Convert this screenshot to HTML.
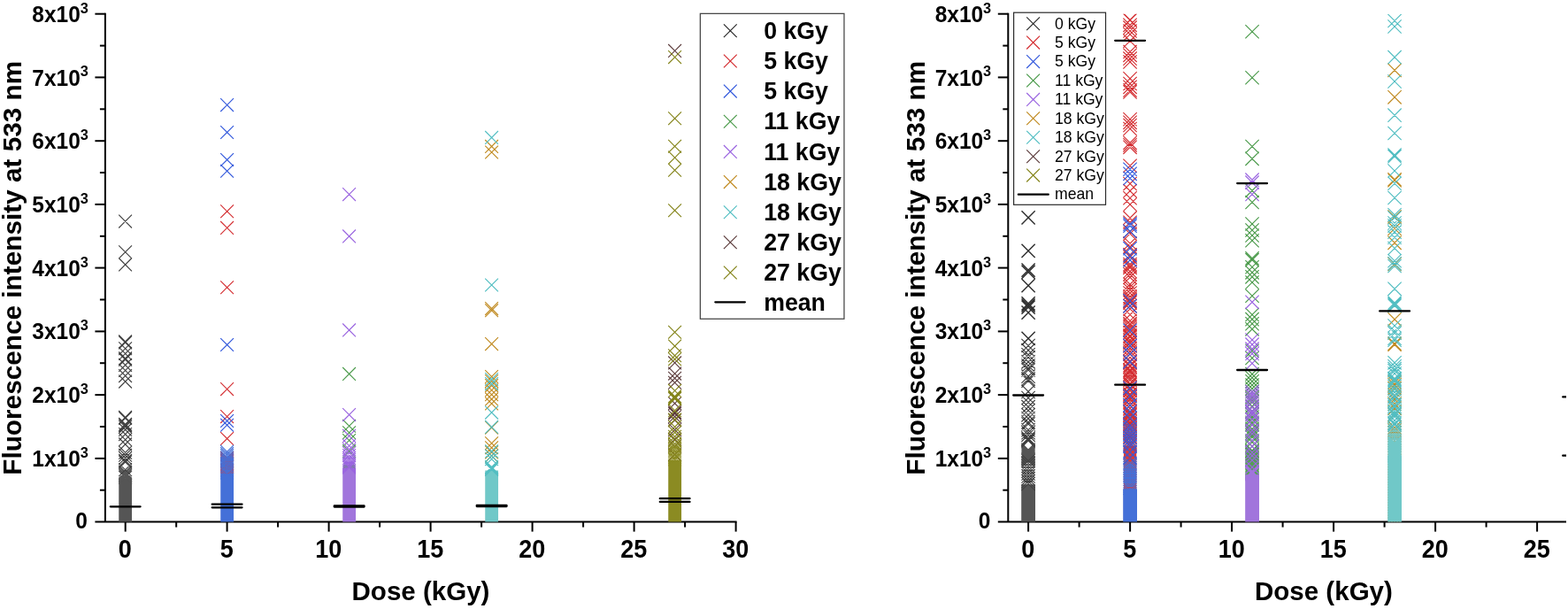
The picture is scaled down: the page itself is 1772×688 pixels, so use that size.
<!DOCTYPE html>
<html lang="en">
<head>
<meta charset="utf-8">
<title>Fluorescence intensity at 533 nm vs dose</title>
<style>
html,body{margin:0;padding:0;background:#fff;}
body{width:1772px;height:688px;overflow:hidden;}
svg{display:block;}
text{font-family:"Liberation Sans",Arial,Helvetica,sans-serif;fill:#000;}
.tk text{font-size:24.5px;font-weight:bold;}
.tk .sp{font-size:16.3px;}
.ti{font-size:29.55px;font-weight:bold;}
.ti2{font-size:29.75px;font-weight:bold;}
.tk .tx{font-size:27px;}
.lgl text{font-size:26.7px;font-weight:bold;}
.lgr text{font-size:17.6px;}
</style>
</head>
<body>
<svg width="1772" height="688" viewBox="0 0 1772 688">
<rect width="1772" height="688" fill="#fff"/>
<g stroke="#000" stroke-width="2" fill="none">
<line x1="118.9" y1="14.7" x2="118.9" y2="589.6"/>
<line x1="107.4" y1="589.6" x2="832.6" y2="589.6"/>
<line x1="112.9" y1="553.7" x2="118.9" y2="553.7"/>
<line x1="107.4" y1="517.9" x2="118.9" y2="517.9"/>
<line x1="112.9" y1="482" x2="118.9" y2="482"/>
<line x1="107.4" y1="446.1" x2="118.9" y2="446.1"/>
<line x1="112.9" y1="410.2" x2="118.9" y2="410.2"/>
<line x1="107.4" y1="374.4" x2="118.9" y2="374.4"/>
<line x1="112.9" y1="338.5" x2="118.9" y2="338.5"/>
<line x1="107.4" y1="302.6" x2="118.9" y2="302.6"/>
<line x1="112.9" y1="266.8" x2="118.9" y2="266.8"/>
<line x1="107.4" y1="230.9" x2="118.9" y2="230.9"/>
<line x1="112.9" y1="195" x2="118.9" y2="195"/>
<line x1="107.4" y1="159.2" x2="118.9" y2="159.2"/>
<line x1="112.9" y1="123.3" x2="118.9" y2="123.3"/>
<line x1="107.4" y1="87.4" x2="118.9" y2="87.4"/>
<line x1="112.9" y1="51.6" x2="118.9" y2="51.6"/>
<line x1="107.4" y1="15.7" x2="118.9" y2="15.7"/>
<line x1="141.7" y1="589.6" x2="141.7" y2="600.6"/>
<line x1="199.2" y1="589.6" x2="199.2" y2="595.6"/>
<line x1="256.6" y1="589.6" x2="256.6" y2="600.6"/>
<line x1="314.1" y1="589.6" x2="314.1" y2="595.6"/>
<line x1="371.6" y1="589.6" x2="371.6" y2="600.6"/>
<line x1="429.1" y1="589.6" x2="429.1" y2="595.6"/>
<line x1="486.6" y1="589.6" x2="486.6" y2="600.6"/>
<line x1="544.1" y1="589.6" x2="544.1" y2="595.6"/>
<line x1="601.6" y1="589.6" x2="601.6" y2="600.6"/>
<line x1="659.1" y1="589.6" x2="659.1" y2="595.6"/>
<line x1="716.6" y1="589.6" x2="716.6" y2="600.6"/>
<line x1="774.1" y1="589.6" x2="774.1" y2="595.6"/>
<line x1="831.6" y1="589.6" x2="831.6" y2="600.6"/>
</g>
<clipPath id="clm"><rect x="0" y="0" width="932.6" height="688"/></clipPath>
<clipPath id="cl"><rect x="118.9" y="15.7" width="753.8" height="573.8"/></clipPath>
<g clip-path="url(#cl)" fill="none" stroke-width="1.15">
<rect fill="#555555" stroke="none" x="134.25" y="540.1" width="14.8" height="56.7"/>
<path stroke="#555555" d="M134.2 532l14.8 14.8m0 -14.8l-14.8 14.8M134.2 530.4l14.8 14.8m0 -14.8l-14.8 14.8M134.2 528.8l14.8 14.8m0 -14.8l-14.8 14.8M134.2 527.2l14.8 14.8m0 -14.8l-14.8 14.8M134.2 525.7l14.8 14.8m0 -14.8l-14.8 14.8"/>
<path stroke="#404040" d="M134.2 523.3l14.8 14.8m0 -14.8l-14.8 14.8M134.2 514.5l14.8 14.8m0 -14.8l-14.8 14.8M134.2 512.9l14.8 14.8m0 -14.8l-14.8 14.8M134.2 510l14.8 14.8m0 -14.8l-14.8 14.8M134.2 506.8l14.8 14.8m0 -14.8l-14.8 14.8M134.2 503.9l14.8 14.8m0 -14.8l-14.8 14.8M134.2 494.5l14.8 14.8m0 -14.8l-14.8 14.8M134.2 489.3l14.8 14.8m0 -14.8l-14.8 14.8M134.2 483.2l14.8 14.8m0 -14.8l-14.8 14.8M134.2 478l14.8 14.8m0 -14.8l-14.8 14.8M134.2 474.9l14.8 14.8m0 -14.8l-14.8 14.8M134.2 473.2l14.8 14.8m0 -14.8l-14.8 14.8M134.2 471.9l14.8 14.8m0 -14.8l-14.8 14.8M134.2 465.1l14.8 14.8m0 -14.8l-14.8 14.8M134.2 464l14.8 14.8m0 -14.8l-14.8 14.8M134.2 423.7l14.8 14.8m0 -14.8l-14.8 14.8M134.2 417.2l14.8 14.8m0 -14.8l-14.8 14.8M134.2 411.1l14.8 14.8m0 -14.8l-14.8 14.8M134.2 405l14.8 14.8m0 -14.8l-14.8 14.8M134.2 398.9l14.8 14.8m0 -14.8l-14.8 14.8M134.2 397.5l14.8 14.8m0 -14.8l-14.8 14.8M134.2 392.1l14.8 14.8m0 -14.8l-14.8 14.8M134.2 386.3l14.8 14.8m0 -14.8l-14.8 14.8M134.2 379.5l14.8 14.8m0 -14.8l-14.8 14.8M134.2 378.5l14.8 14.8m0 -14.8l-14.8 14.8M134.2 291.5l14.8 14.8m0 -14.8l-14.8 14.8M134.2 277.3l14.8 14.8m0 -14.8l-14.8 14.8M134.2 242.7l14.8 14.8m0 -14.8l-14.8 14.8"/>
<rect fill="#d93a3a" stroke="none" x="249.95" y="528.3" width="13.4" height="60.7"/>
<path stroke="#d93a3a" d="M249.2 520.1l14.8 14.8m0 -14.8l-14.8 14.8M249.2 518.7l14.8 14.8m0 -14.8l-14.8 14.8M249.2 517.3l14.8 14.8m0 -14.8l-14.8 14.8M249.2 515.8l14.8 14.8m0 -14.8l-14.8 14.8M249.2 514.4l14.8 14.8m0 -14.8l-14.8 14.8M249.2 513l14.8 14.8m0 -14.8l-14.8 14.8M249.2 511.5l14.8 14.8m0 -14.8l-14.8 14.8M249.2 510.1l14.8 14.8m0 -14.8l-14.8 14.8"/>
<path stroke="#d42e32" d="M249.2 488.1l14.8 14.8m0 -14.8l-14.8 14.8M249.2 463.2l14.8 14.8m0 -14.8l-14.8 14.8M249.2 432.2l14.8 14.8m0 -14.8l-14.8 14.8M249.2 317.3l14.8 14.8m0 -14.8l-14.8 14.8M249.2 250l14.8 14.8m0 -14.8l-14.8 14.8M249.2 231.4l14.8 14.8m0 -14.8l-14.8 14.8"/>
<rect fill="#4470d8" stroke="none" x="249.25" y="535.1" width="14.8" height="61.7"/>
<path stroke="#4470d8" d="M249.2 526.6l14.8 14.8m0 -14.8l-14.8 14.8M249.2 524.4l14.8 14.8m0 -14.8l-14.8 14.8M249.2 522.3l14.8 14.8m0 -14.8l-14.8 14.8M249.2 520.1l14.8 14.8m0 -14.8l-14.8 14.8M249.2 518l14.8 14.8m0 -14.8l-14.8 14.8M249.2 515.8l14.8 14.8m0 -14.8l-14.8 14.8M249.2 513.7l14.8 14.8m0 -14.8l-14.8 14.8M249.2 511.5l14.8 14.8m0 -14.8l-14.8 14.8M249.2 509.4l14.8 14.8m0 -14.8l-14.8 14.8M249.2 507.2l14.8 14.8m0 -14.8l-14.8 14.8M249.2 505.1l14.8 14.8m0 -14.8l-14.8 14.8M249.2 502.9l14.8 14.8m0 -14.8l-14.8 14.8"/>
<path stroke="#3258dc" d="M249.2 472.8l14.8 14.8m0 -14.8l-14.8 14.8M249.2 468.1l14.8 14.8m0 -14.8l-14.8 14.8M249.2 382.1l14.8 14.8m0 -14.8l-14.8 14.8M249.2 185.8l14.8 14.8m0 -14.8l-14.8 14.8M249.2 173.1l14.8 14.8m0 -14.8l-14.8 14.8M249.2 142.1l14.8 14.8m0 -14.8l-14.8 14.8M249.2 111.2l14.8 14.8m0 -14.8l-14.8 14.8"/>
<rect fill="#55a055" stroke="none" x="387.95" y="524.7" width="13.4" height="64.3"/>
<path stroke="#4a9a4a" d="M387.2 502.3l14.8 14.8m0 -14.8l-14.8 14.8M387.2 490.1l14.8 14.8m0 -14.8l-14.8 14.8M387.2 481.3l14.8 14.8m0 -14.8l-14.8 14.8M387.2 473.8l14.8 14.8m0 -14.8l-14.8 14.8M387.2 415l14.8 14.8m0 -14.8l-14.8 14.8"/>
<rect fill="#a175dc" stroke="none" x="387.25" y="529" width="14.8" height="67.8"/>
<path stroke="#9a64e0" d="M387.2 520.5l14.8 14.8m0 -14.8l-14.8 14.8M387.2 518.7l14.8 14.8m0 -14.8l-14.8 14.8M387.2 516.6l14.8 14.8m0 -14.8l-14.8 14.8M387.2 514.3l14.8 14.8m0 -14.8l-14.8 14.8M387.2 512.2l14.8 14.8m0 -14.8l-14.8 14.8M387.2 510l14.8 14.8m0 -14.8l-14.8 14.8M387.2 507.2l14.8 14.8m0 -14.8l-14.8 14.8M387.2 504.3l14.8 14.8m0 -14.8l-14.8 14.8M387.2 500.3l14.8 14.8m0 -14.8l-14.8 14.8M387.2 496.2l14.8 14.8m0 -14.8l-14.8 14.8M387.2 485l14.8 14.8m0 -14.8l-14.8 14.8M387.2 461.2l14.8 14.8m0 -14.8l-14.8 14.8M387.2 365.5l14.8 14.8m0 -14.8l-14.8 14.8M387.2 259.5l14.8 14.8m0 -14.8l-14.8 14.8M387.2 212.2l14.8 14.8m0 -14.8l-14.8 14.8"/>
<rect fill="#c8962a" stroke="none" x="548.95" y="535.1" width="13.4" height="53.9"/>
<path stroke="#c08a20" d="M548.2 521.6l14.8 14.8m0 -14.8l-14.8 14.8M548.2 507.6l14.8 14.8m0 -14.8l-14.8 14.8M548.2 503.5l14.8 14.8m0 -14.8l-14.8 14.8M548.2 498.4l14.8 14.8m0 -14.8l-14.8 14.8M548.2 493.3l14.8 14.8m0 -14.8l-14.8 14.8M548.2 475.7l14.8 14.8m0 -14.8l-14.8 14.8M548.2 448.6l14.8 14.8m0 -14.8l-14.8 14.8M548.2 443.5l14.8 14.8m0 -14.8l-14.8 14.8M548.2 438.4l14.8 14.8m0 -14.8l-14.8 14.8M548.2 433.3l14.8 14.8m0 -14.8l-14.8 14.8M548.2 428.2l14.8 14.8m0 -14.8l-14.8 14.8M548.2 423.2l14.8 14.8m0 -14.8l-14.8 14.8M548.2 418.1l14.8 14.8m0 -14.8l-14.8 14.8M548.2 381.2l14.8 14.8m0 -14.8l-14.8 14.8M548.2 343.4l14.8 14.8m0 -14.8l-14.8 14.8M548.2 341.2l14.8 14.8m0 -14.8l-14.8 14.8M548.2 164.6l14.8 14.8m0 -14.8l-14.8 14.8M548.2 158l14.8 14.8m0 -14.8l-14.8 14.8"/>
<rect fill="#70c8c8" stroke="none" x="548.25" y="531.5" width="14.8" height="65.3"/>
<path stroke="#52bec2" d="M548.2 523l14.8 14.8m0 -14.8l-14.8 14.8M548.2 521.6l14.8 14.8m0 -14.8l-14.8 14.8M548.2 520.1l14.8 14.8m0 -14.8l-14.8 14.8M548.2 511.2l14.8 14.8m0 -14.8l-14.8 14.8M548.2 507.6l14.8 14.8m0 -14.8l-14.8 14.8M548.2 502.5l14.8 14.8m0 -14.8l-14.8 14.8M548.2 475l14.8 14.8m0 -14.8l-14.8 14.8M548.2 458.7l14.8 14.8m0 -14.8l-14.8 14.8M548.2 426.2l14.8 14.8m0 -14.8l-14.8 14.8M548.2 421.1l14.8 14.8m0 -14.8l-14.8 14.8M548.2 314.6l14.8 14.8m0 -14.8l-14.8 14.8M548.2 148l14.8 14.8m0 -14.8l-14.8 14.8"/>
<rect fill="#6e4a4a" stroke="none" x="755.95" y="524.7" width="13.4" height="64.3"/>
<path stroke="#5c3c3c" d="M755.2 506.4l14.8 14.8m0 -14.8l-14.8 14.8M755.2 496.5l14.8 14.8m0 -14.8l-14.8 14.8M755.2 488.8l14.8 14.8m0 -14.8l-14.8 14.8M755.2 478.2l14.8 14.8m0 -14.8l-14.8 14.8M755.2 467.3l14.8 14.8m0 -14.8l-14.8 14.8M755.2 463.3l14.8 14.8m0 -14.8l-14.8 14.8M755.2 459.9l14.8 14.8m0 -14.8l-14.8 14.8M755.2 458.4l14.8 14.8m0 -14.8l-14.8 14.8M755.2 448.3l14.8 14.8m0 -14.8l-14.8 14.8M755.2 424.9l14.8 14.8m0 -14.8l-14.8 14.8M755.2 419.9l14.8 14.8m0 -14.8l-14.8 14.8M755.2 414.7l14.8 14.8m0 -14.8l-14.8 14.8M755.2 402.5l14.8 14.8m0 -14.8l-14.8 14.8M755.2 50l14.8 14.8m0 -14.8l-14.8 14.8"/>
<rect fill="#8b8b22" stroke="none" x="755.25" y="520" width="14.8" height="76.8"/>
<path stroke="#8b8b22" d="M755.2 511.5l14.8 14.8m0 -14.8l-14.8 14.8M755.2 509.4l14.8 14.8m0 -14.8l-14.8 14.8M755.2 507.2l14.8 14.8m0 -14.8l-14.8 14.8M755.2 505.1l14.8 14.8m0 -14.8l-14.8 14.8M755.2 502.9l14.8 14.8m0 -14.8l-14.8 14.8M755.2 500.8l14.8 14.8m0 -14.8l-14.8 14.8M755.2 498.6l14.8 14.8m0 -14.8l-14.8 14.8M755.2 496.5l14.8 14.8m0 -14.8l-14.8 14.8"/>
<path stroke="#84841a" d="M755.2 494l14.8 14.8m0 -14.8l-14.8 14.8M755.2 490l14.8 14.8m0 -14.8l-14.8 14.8M755.2 485.9l14.8 14.8m0 -14.8l-14.8 14.8M755.2 481.1l14.8 14.8m0 -14.8l-14.8 14.8M755.2 474.9l14.8 14.8m0 -14.8l-14.8 14.8M755.2 466.6l14.8 14.8m0 -14.8l-14.8 14.8M755.2 456.4l14.8 14.8m0 -14.8l-14.8 14.8M755.2 443.2l14.8 14.8m0 -14.8l-14.8 14.8M755.2 441.8l14.8 14.8m0 -14.8l-14.8 14.8M755.2 440.4l14.8 14.8m0 -14.8l-14.8 14.8M755.2 434l14.8 14.8m0 -14.8l-14.8 14.8M755.2 398.4l14.8 14.8m0 -14.8l-14.8 14.8M755.2 394.3l14.8 14.8m0 -14.8l-14.8 14.8M755.2 383.6l14.8 14.8m0 -14.8l-14.8 14.8M755.2 367.9l14.8 14.8m0 -14.8l-14.8 14.8M755.2 230.3l14.8 14.8m0 -14.8l-14.8 14.8M755.2 184.9l14.8 14.8m0 -14.8l-14.8 14.8M755.2 170.7l14.8 14.8m0 -14.8l-14.8 14.8M755.2 157.9l14.8 14.8m0 -14.8l-14.8 14.8M755.2 126.4l14.8 14.8m0 -14.8l-14.8 14.8M755.2 57.2l14.8 14.8m0 -14.8l-14.8 14.8"/>
</g>
<g stroke="#000" stroke-width="2.3" stroke-linecap="round" clip-path="url(#clm)">
<line x1="124.8" y1="572.3" x2="158.6" y2="572.3"/>
<line x1="239.7" y1="573.3" x2="273.5" y2="573.3"/>
<line x1="239.7" y1="569.7" x2="273.5" y2="569.7"/>
<line x1="377.8" y1="572.5" x2="411.5" y2="572.5"/>
<line x1="377.8" y1="571.5" x2="411.5" y2="571.5"/>
<line x1="538.8" y1="572" x2="572.5" y2="572"/>
<line x1="538.8" y1="570.9" x2="572.5" y2="570.9"/>
<line x1="745.8" y1="566.9" x2="779.5" y2="566.9"/>
<line x1="745.8" y1="563.2" x2="779.5" y2="563.2"/>
</g>
<g class="tk">
<text text-anchor="end" transform="translate(99 596.9) scale(1 1.04)">0</text>
<text text-anchor="end" transform="translate(99.76 526.96) scale(1 1.04)">1x10<tspan class="sp" dx="-0.1" dy="-9.8">3</tspan></text>
<text text-anchor="end" transform="translate(99.76 455.22) scale(1 1.04)">2x10<tspan class="sp" dx="-0.1" dy="-9.8">3</tspan></text>
<text text-anchor="end" transform="translate(99.76 383.48) scale(1 1.04)">3x10<tspan class="sp" dx="-0.1" dy="-9.8">3</tspan></text>
<text text-anchor="end" transform="translate(99.76 311.74) scale(1 1.04)">4x10<tspan class="sp" dx="-0.1" dy="-9.8">3</tspan></text>
<text text-anchor="end" transform="translate(99.76 240) scale(1 1.04)">5x10<tspan class="sp" dx="-0.1" dy="-9.8">3</tspan></text>
<text text-anchor="end" transform="translate(99.76 168.26) scale(1 1.04)">6x10<tspan class="sp" dx="-0.1" dy="-9.8">3</tspan></text>
<text text-anchor="end" transform="translate(99.76 96.52) scale(1 1.04)">7x10<tspan class="sp" dx="-0.1" dy="-9.8">3</tspan></text>
<text text-anchor="end" transform="translate(99.76 24.78) scale(1 1.04)">8x10<tspan class="sp" dx="-0.1" dy="-9.8">3</tspan></text>
<text class="tx" text-anchor="middle" transform="translate(141.25 629.8) scale(1 1.08)">0</text>
<text class="tx" text-anchor="middle" transform="translate(256.25 629.8) scale(1 1.08)">5</text>
<text class="tx" text-anchor="middle" transform="translate(371.25 629.8) scale(1 1.08)">10</text>
<text class="tx" text-anchor="middle" transform="translate(486.25 629.8) scale(1 1.08)">15</text>
<text class="tx" text-anchor="middle" transform="translate(601.25 629.8) scale(1 1.08)">20</text>
<text class="tx" text-anchor="middle" transform="translate(716.25 629.8) scale(1 1.08)">25</text>
<text class="tx" text-anchor="middle" transform="translate(831.25 629.8) scale(1 1.08)">30</text>
</g>
<text class="ti" text-anchor="middle" transform="translate(475.5 678) scale(1 0.985)">Dose (kGy)</text>
<text class="ti2" text-anchor="middle" transform="translate(24.2 302.8) rotate(-90)">Fluorescence intensity at 533 nm</text>
<rect x="791.35" y="15.35" width="162.6" height="344.9" fill="#fff" stroke="#444" stroke-width="1.25"/>
<g class="lgl">
<path fill="none" stroke="#2a2a2a" stroke-width="1.2" d="M817.9 27.4l14.8 14.8m0 -14.8l-14.8 14.8"/>
<text transform="translate(863.2 43.9) scale(1 1.04)">0 kGy</text>
<path fill="none" stroke="#d42e32" stroke-width="1.2" d="M817.9 61.6l14.8 14.8m0 -14.8l-14.8 14.8"/>
<text transform="translate(863.2 78.05) scale(1 1.04)">5 kGy</text>
<path fill="none" stroke="#3258dc" stroke-width="1.2" d="M817.9 95.7l14.8 14.8m0 -14.8l-14.8 14.8"/>
<text transform="translate(863.2 112.2) scale(1 1.04)">5 kGy</text>
<path fill="none" stroke="#4a9a4a" stroke-width="1.2" d="M817.9 129.8l14.8 14.8m0 -14.8l-14.8 14.8"/>
<text transform="translate(863.2 146.35) scale(1 1.04)">11 kGy</text>
<path fill="none" stroke="#9a64e0" stroke-width="1.2" d="M817.9 164l14.8 14.8m0 -14.8l-14.8 14.8"/>
<text transform="translate(863.2 180.5) scale(1 1.04)">11 kGy</text>
<path fill="none" stroke="#c08a20" stroke-width="1.2" d="M817.9 198.2l14.8 14.8m0 -14.8l-14.8 14.8"/>
<text transform="translate(863.2 214.65) scale(1 1.04)">18 kGy</text>
<path fill="none" stroke="#52bec2" stroke-width="1.2" d="M817.9 232.3l14.8 14.8m0 -14.8l-14.8 14.8"/>
<text transform="translate(863.2 248.8) scale(1 1.04)">18 kGy</text>
<path fill="none" stroke="#5c3c3c" stroke-width="1.2" d="M817.9 266.4l14.8 14.8m0 -14.8l-14.8 14.8"/>
<text transform="translate(863.2 282.95) scale(1 1.04)">27 kGy</text>
<path fill="none" stroke="#84841a" stroke-width="1.2" d="M817.9 300.6l14.8 14.8m0 -14.8l-14.8 14.8"/>
<text transform="translate(863.2 317.1) scale(1 1.04)">27 kGy</text>
<line x1="808.3" y1="341.3" x2="841.9" y2="341.3" stroke="#000" stroke-width="2.2" stroke-linecap="round"/>
<text transform="translate(863.2 351.25) scale(1 1.04)">mean</text>
</g>
<g stroke="#000" stroke-width="2" fill="none">
<line x1="1139.3" y1="14.7" x2="1139.3" y2="589.6"/>
<line x1="1127.8" y1="589.6" x2="1770" y2="589.6"/>
<line x1="1133.3" y1="553.7" x2="1139.3" y2="553.7"/>
<line x1="1127.8" y1="517.9" x2="1139.3" y2="517.9"/>
<line x1="1133.3" y1="482" x2="1139.3" y2="482"/>
<line x1="1127.8" y1="446.1" x2="1139.3" y2="446.1"/>
<line x1="1133.3" y1="410.2" x2="1139.3" y2="410.2"/>
<line x1="1127.8" y1="374.4" x2="1139.3" y2="374.4"/>
<line x1="1133.3" y1="338.5" x2="1139.3" y2="338.5"/>
<line x1="1127.8" y1="302.6" x2="1139.3" y2="302.6"/>
<line x1="1133.3" y1="266.8" x2="1139.3" y2="266.8"/>
<line x1="1127.8" y1="230.9" x2="1139.3" y2="230.9"/>
<line x1="1133.3" y1="195" x2="1139.3" y2="195"/>
<line x1="1127.8" y1="159.2" x2="1139.3" y2="159.2"/>
<line x1="1133.3" y1="123.3" x2="1139.3" y2="123.3"/>
<line x1="1127.8" y1="87.4" x2="1139.3" y2="87.4"/>
<line x1="1133.3" y1="51.6" x2="1139.3" y2="51.6"/>
<line x1="1127.8" y1="15.7" x2="1139.3" y2="15.7"/>
<line x1="1162.1" y1="589.6" x2="1162.1" y2="600.6"/>
<line x1="1219.6" y1="589.6" x2="1219.6" y2="595.6"/>
<line x1="1277.1" y1="589.6" x2="1277.1" y2="600.6"/>
<line x1="1334.6" y1="589.6" x2="1334.6" y2="595.6"/>
<line x1="1392.1" y1="589.6" x2="1392.1" y2="600.6"/>
<line x1="1449.6" y1="589.6" x2="1449.6" y2="595.6"/>
<line x1="1507.1" y1="589.6" x2="1507.1" y2="600.6"/>
<line x1="1564.6" y1="589.6" x2="1564.6" y2="595.6"/>
<line x1="1622.1" y1="589.6" x2="1622.1" y2="600.6"/>
<line x1="1679.6" y1="589.6" x2="1679.6" y2="595.6"/>
<line x1="1737.1" y1="589.6" x2="1737.1" y2="600.6"/>
</g>
<clipPath id="crm"><rect x="0" y="0" width="1770" height="688"/></clipPath>
<clipPath id="cr"><rect x="1139.3" y="15.7" width="670.7" height="573.8"/></clipPath>
<g clip-path="url(#cr)" fill="none" stroke-width="1.15">
<rect fill="#555555" stroke="none" x="1154.2" y="547.3" width="15.8" height="49.5"/>
<path stroke="#555555" d="M1154.4 512l15.3 15.3m0 -15.3l-15.3 15.3M1154.4 510.9l15.3 15.3m0 -15.3l-15.3 15.3M1154.4 509.7l15.3 15.3m0 -15.3l-15.3 15.3M1154.4 508.6l15.3 15.3m0 -15.3l-15.3 15.3M1154.4 507.4l15.3 15.3m0 -15.3l-15.3 15.3M1154.4 506.3l15.3 15.3m0 -15.3l-15.3 15.3M1154.4 505.1l15.3 15.3m0 -15.3l-15.3 15.3M1154.4 504l15.3 15.3m0 -15.3l-15.3 15.3M1154.4 502.8l15.3 15.3m0 -15.3l-15.3 15.3M1154.4 501.7l15.3 15.3m0 -15.3l-15.3 15.3M1154.4 500.5l15.3 15.3m0 -15.3l-15.3 15.3"/>
<path stroke="#404040" d="M1154.4 538.9l15.3 15.3m0 -15.3l-15.3 15.3M1154.4 536l15.3 15.3m0 -15.3l-15.3 15.3M1154.4 533.2l15.3 15.3m0 -15.3l-15.3 15.3M1154.4 530.3l15.3 15.3m0 -15.3l-15.3 15.3M1154.4 527.4l15.3 15.3m0 -15.3l-15.3 15.3M1154.4 524.6l15.3 15.3m0 -15.3l-15.3 15.3M1154.4 521.7l15.3 15.3m0 -15.3l-15.3 15.3M1154.4 518.8l15.3 15.3m0 -15.3l-15.3 15.3M1154.4 515.9l15.3 15.3m0 -15.3l-15.3 15.3M1154.4 513.1l15.3 15.3m0 -15.3l-15.3 15.3M1154.4 490.2l15.3 15.3m0 -15.3l-15.3 15.3M1154.4 488.7l15.3 15.3m0 -15.3l-15.3 15.3M1154.4 487.3l15.3 15.3m0 -15.3l-15.3 15.3M1154.4 483.7l15.3 15.3m0 -15.3l-15.3 15.3M1154.4 481.1l15.3 15.3m0 -15.3l-15.3 15.3M1154.4 478.1l15.3 15.3m0 -15.3l-15.3 15.3M1154.4 471.3l15.3 15.3m0 -15.3l-15.3 15.3M1154.4 469.3l15.3 15.3m0 -15.3l-15.3 15.3M1154.4 465.2l15.3 15.3m0 -15.3l-15.3 15.3M1154.4 461.2l15.3 15.3m0 -15.3l-15.3 15.3M1154.4 456.1l15.3 15.3m0 -15.3l-15.3 15.3M1154.4 452l15.3 15.3m0 -15.3l-15.3 15.3M1154.4 446.9l15.3 15.3m0 -15.3l-15.3 15.3M1154.4 441.8l15.3 15.3m0 -15.3l-15.3 15.3M1154.4 434.7l15.3 15.3m0 -15.3l-15.3 15.3M1154.4 422.5l15.3 15.3m0 -15.3l-15.3 15.3M1154.4 420.5l15.3 15.3m0 -15.3l-15.3 15.3M1154.4 417.5l15.3 15.3m0 -15.3l-15.3 15.3M1154.4 410.3l15.3 15.3m0 -15.3l-15.3 15.3M1154.4 408.3l15.3 15.3m0 -15.3l-15.3 15.3M1154.4 405.3l15.3 15.3m0 -15.3l-15.3 15.3M1154.4 401.2l15.3 15.3m0 -15.3l-15.3 15.3M1154.4 396.1l15.3 15.3m0 -15.3l-15.3 15.3M1154.4 393.1l15.3 15.3m0 -15.3l-15.3 15.3M1154.4 388l15.3 15.3m0 -15.3l-15.3 15.3M1154.4 382.9l15.3 15.3m0 -15.3l-15.3 15.3"/>
<path stroke="#303030" stroke-width="1.45" d="M1154.5 374.8l15.2 15.2m0 -15.2l-15.2 15.2M1154.5 345.5l15.2 15.2m0 -15.2l-15.2 15.2M1154.5 339.6l15.2 15.2m0 -15.2l-15.2 15.2M1154.5 337.4l15.2 15.2m0 -15.2l-15.2 15.2M1154.5 335.3l15.2 15.2m0 -15.2l-15.2 15.2M1154.5 315.1l15.2 15.2m0 -15.2l-15.2 15.2M1154.5 299.7l15.2 15.2m0 -15.2l-15.2 15.2M1154.5 297.6l15.2 15.2m0 -15.2l-15.2 15.2M1154.5 275.7l15.2 15.2m0 -15.2l-15.2 15.2M1154.5 238.3l15.2 15.2m0 -15.2l-15.2 15.2"/>
<rect fill="#d93a3a" stroke="none" x="1269.9" y="503.5" width="14.4" height="85.5"/>
<path stroke="#d42e32" d="M1269.4 495.1l15.3 15.3m0 -15.3l-15.3 15.3M1269.4 492l15.3 15.3m0 -15.3l-15.3 15.3M1269.4 489.1l15.3 15.3m0 -15.3l-15.3 15.3M1269.4 486.8l15.3 15.3m0 -15.3l-15.3 15.3M1269.4 485.2l15.3 15.3m0 -15.3l-15.3 15.3M1269.4 481.9l15.3 15.3m0 -15.3l-15.3 15.3M1269.4 478.4l15.3 15.3m0 -15.3l-15.3 15.3M1269.4 476l15.3 15.3m0 -15.3l-15.3 15.3M1269.4 473.6l15.3 15.3m0 -15.3l-15.3 15.3M1269.4 471.9l15.3 15.3m0 -15.3l-15.3 15.3M1269.4 471l15.3 15.3m0 -15.3l-15.3 15.3M1269.4 469l15.3 15.3m0 -15.3l-15.3 15.3M1269.4 466.3l15.3 15.3m0 -15.3l-15.3 15.3M1269.4 465.2l15.3 15.3m0 -15.3l-15.3 15.3M1269.4 461.9l15.3 15.3m0 -15.3l-15.3 15.3M1269.4 460.3l15.3 15.3m0 -15.3l-15.3 15.3M1269.4 458.7l15.3 15.3m0 -15.3l-15.3 15.3M1269.4 457.7l15.3 15.3m0 -15.3l-15.3 15.3M1269.4 453.7l15.3 15.3m0 -15.3l-15.3 15.3M1269.4 450.5l15.3 15.3m0 -15.3l-15.3 15.3M1269.4 446.9l15.3 15.3m0 -15.3l-15.3 15.3M1269.4 444.1l15.3 15.3m0 -15.3l-15.3 15.3M1269.4 443.1l15.3 15.3m0 -15.3l-15.3 15.3M1269.4 441.2l15.3 15.3m0 -15.3l-15.3 15.3M1269.4 438.8l15.3 15.3m0 -15.3l-15.3 15.3M1269.4 437.5l15.3 15.3m0 -15.3l-15.3 15.3M1269.4 433.7l15.3 15.3m0 -15.3l-15.3 15.3M1269.4 431.7l15.3 15.3m0 -15.3l-15.3 15.3M1269.4 430.3l15.3 15.3m0 -15.3l-15.3 15.3M1269.4 426.8l15.3 15.3m0 -15.3l-15.3 15.3M1269.4 425.6l15.3 15.3m0 -15.3l-15.3 15.3M1269.4 421.8l15.3 15.3m0 -15.3l-15.3 15.3M1269.4 419.5l15.3 15.3m0 -15.3l-15.3 15.3M1269.4 416.9l15.3 15.3m0 -15.3l-15.3 15.3M1269.4 414.9l15.3 15.3m0 -15.3l-15.3 15.3M1269.4 412.6l15.3 15.3m0 -15.3l-15.3 15.3M1269.4 411.1l15.3 15.3m0 -15.3l-15.3 15.3M1269.4 410.1l15.3 15.3m0 -15.3l-15.3 15.3M1269.4 406.5l15.3 15.3m0 -15.3l-15.3 15.3M1269.4 405l15.3 15.3m0 -15.3l-15.3 15.3M1269.4 401.7l15.3 15.3m0 -15.3l-15.3 15.3M1269.4 400.1l15.3 15.3m0 -15.3l-15.3 15.3M1269.4 396.2l15.3 15.3m0 -15.3l-15.3 15.3M1269.4 392.5l15.3 15.3m0 -15.3l-15.3 15.3M1269.4 389.3l15.3 15.3m0 -15.3l-15.3 15.3M1269.4 386l15.3 15.3m0 -15.3l-15.3 15.3M1269.4 383.3l15.3 15.3m0 -15.3l-15.3 15.3M1269.4 380.1l15.3 15.3m0 -15.3l-15.3 15.3M1269.4 378.9l15.3 15.3m0 -15.3l-15.3 15.3M1269.4 376.5l15.3 15.3m0 -15.3l-15.3 15.3M1269.4 373l15.3 15.3m0 -15.3l-15.3 15.3M1269.4 371.5l15.3 15.3m0 -15.3l-15.3 15.3M1269.4 367.8l15.3 15.3m0 -15.3l-15.3 15.3M1269.4 364.1l15.3 15.3m0 -15.3l-15.3 15.3M1269.4 361.9l15.3 15.3m0 -15.3l-15.3 15.3M1269.4 359.9l15.3 15.3m0 -15.3l-15.3 15.3M1269.4 358l15.3 15.3m0 -15.3l-15.3 15.3M1269.4 354.8l15.3 15.3m0 -15.3l-15.3 15.3M1269.4 347.9l15.3 15.3m0 -15.3l-15.3 15.3M1269.4 341.4l15.3 15.3m0 -15.3l-15.3 15.3M1269.4 338l15.3 15.3m0 -15.3l-15.3 15.3M1269.4 334.4l15.3 15.3m0 -15.3l-15.3 15.3M1269.4 332.9l15.3 15.3m0 -15.3l-15.3 15.3M1269.4 331.9l15.3 15.3m0 -15.3l-15.3 15.3M1269.4 329.5l15.3 15.3m0 -15.3l-15.3 15.3M1269.4 327.4l15.3 15.3m0 -15.3l-15.3 15.3M1269.4 323.4l15.3 15.3m0 -15.3l-15.3 15.3M1269.4 319.8l15.3 15.3m0 -15.3l-15.3 15.3M1269.4 316.6l15.3 15.3m0 -15.3l-15.3 15.3M1269.4 313.5l15.3 15.3m0 -15.3l-15.3 15.3M1269.4 305.7l15.3 15.3m0 -15.3l-15.3 15.3M1269.4 302.2l15.3 15.3m0 -15.3l-15.3 15.3M1269.4 299l15.3 15.3m0 -15.3l-15.3 15.3M1269.4 294.7l15.3 15.3m0 -15.3l-15.3 15.3M1269.4 292.8l15.3 15.3m0 -15.3l-15.3 15.3M1269.4 290.9l15.3 15.3m0 -15.3l-15.3 15.3M1269.4 282.7l15.3 15.3m0 -15.3l-15.3 15.3M1269.4 280.1l15.3 15.3m0 -15.3l-15.3 15.3M1269.4 271.2l15.3 15.3m0 -15.3l-15.3 15.3M1269.4 267.4l15.3 15.3m0 -15.3l-15.3 15.3M1269.4 256.3l15.3 15.3m0 -15.3l-15.3 15.3M1269.4 253.8l15.3 15.3m0 -15.3l-15.3 15.3M1269.4 243.6l15.3 15.3m0 -15.3l-15.3 15.3M1269.4 238.5l15.3 15.3m0 -15.3l-15.3 15.3M1269.4 223.3l15.3 15.3m0 -15.3l-15.3 15.3M1269.4 216.1l15.3 15.3m0 -15.3l-15.3 15.3M1269.4 208l15.3 15.3m0 -15.3l-15.3 15.3M1269.4 199.9l15.3 15.3m0 -15.3l-15.3 15.3M1269.4 179.6l15.3 15.3m0 -15.3l-15.3 15.3M1269.4 158.7l15.3 15.3m0 -15.3l-15.3 15.3M1269.4 156.2l15.3 15.3m0 -15.3l-15.3 15.3M1269.4 153.7l15.3 15.3m0 -15.3l-15.3 15.3M1269.4 137.8l15.3 15.3m0 -15.3l-15.3 15.3M1269.4 133.8l15.3 15.3m0 -15.3l-15.3 15.3M1269.4 130.7l15.3 15.3m0 -15.3l-15.3 15.3M1269.4 127.1l15.3 15.3m0 -15.3l-15.3 15.3M1269.4 96.3l15.3 15.3m0 -15.3l-15.3 15.3M1269.4 94.3l15.3 15.3m0 -15.3l-15.3 15.3M1269.4 90.7l15.3 15.3m0 -15.3l-15.3 15.3M1269.4 86.9l15.3 15.3m0 -15.3l-15.3 15.3M1269.4 81.2l15.3 15.3m0 -15.3l-15.3 15.3M1269.4 62.3l15.3 15.3m0 -15.3l-15.3 15.3M1269.4 58.5l15.3 15.3m0 -15.3l-15.3 15.3M1269.4 54.7l15.3 15.3m0 -15.3l-15.3 15.3M1269.4 50.9l15.3 15.3m0 -15.3l-15.3 15.3M1269.4 38.6l15.3 15.3m0 -15.3l-15.3 15.3M1269.4 31.1l15.3 15.3m0 -15.3l-15.3 15.3M1269.4 27.3l15.3 15.3m0 -15.3l-15.3 15.3M1269.4 23.5l15.3 15.3m0 -15.3l-15.3 15.3M1269.4 20.7l15.3 15.3m0 -15.3l-15.3 15.3M1269.4 15.3l15.3 15.3m0 -15.3l-15.3 15.3M1269.4 14.8l15.3 15.3m0 -15.3l-15.3 15.3"/>
<rect fill="#4470d8" stroke="none" x="1269.2" y="552.3" width="15.8" height="44.5"/>
<path stroke="#4470d8" d="M1269.4 543.6l15.3 15.3m0 -15.3l-15.3 15.3M1269.4 541.1l15.3 15.3m0 -15.3l-15.3 15.3M1269.4 538.5l15.3 15.3m0 -15.3l-15.3 15.3M1269.4 536l15.3 15.3m0 -15.3l-15.3 15.3M1269.4 533.5l15.3 15.3m0 -15.3l-15.3 15.3M1269.4 531l15.3 15.3m0 -15.3l-15.3 15.3M1269.4 528.5l15.3 15.3m0 -15.3l-15.3 15.3M1269.4 526l15.3 15.3m0 -15.3l-15.3 15.3M1269.4 523.5l15.3 15.3m0 -15.3l-15.3 15.3M1269.4 521l15.3 15.3m0 -15.3l-15.3 15.3M1269.4 518.5l15.3 15.3m0 -15.3l-15.3 15.3M1269.4 515.9l15.3 15.3m0 -15.3l-15.3 15.3"/>
<path stroke="#3258dc" d="M1269.4 509.5l15.3 15.3m0 -15.3l-15.3 15.3M1269.4 503l15.3 15.3m0 -15.3l-15.3 15.3M1269.4 496.6l15.3 15.3m0 -15.3l-15.3 15.3M1269.4 493.3l15.3 15.3m0 -15.3l-15.3 15.3M1269.4 490l15.3 15.3m0 -15.3l-15.3 15.3M1269.4 486.7l15.3 15.3m0 -15.3l-15.3 15.3M1269.4 483.4l15.3 15.3m0 -15.3l-15.3 15.3M1269.4 480.1l15.3 15.3m0 -15.3l-15.3 15.3M1269.4 476.8l15.3 15.3m0 -15.3l-15.3 15.3M1269.4 473.5l15.3 15.3m0 -15.3l-15.3 15.3M1269.4 464.3l15.3 15.3m0 -15.3l-15.3 15.3M1269.4 457.1l15.3 15.3m0 -15.3l-15.3 15.3M1269.4 450l15.3 15.3m0 -15.3l-15.3 15.3M1269.4 439.8l15.3 15.3m0 -15.3l-15.3 15.3M1269.4 430.7l15.3 15.3m0 -15.3l-15.3 15.3M1269.4 401.2l15.3 15.3m0 -15.3l-15.3 15.3M1269.4 392.1l15.3 15.3m0 -15.3l-15.3 15.3M1269.4 382.9l15.3 15.3m0 -15.3l-15.3 15.3M1269.4 365.6l15.3 15.3m0 -15.3l-15.3 15.3M1269.4 338.2l15.3 15.3m0 -15.3l-15.3 15.3M1269.4 332.1l15.3 15.3m0 -15.3l-15.3 15.3M1269.4 286.2l15.3 15.3m0 -15.3l-15.3 15.3M1269.4 281.1l15.3 15.3m0 -15.3l-15.3 15.3M1269.4 273l15.3 15.3m0 -15.3l-15.3 15.3M1269.4 253.7l15.3 15.3m0 -15.3l-15.3 15.3M1269.4 247.6l15.3 15.3m0 -15.3l-15.3 15.3M1269.4 245.5l15.3 15.3m0 -15.3l-15.3 15.3M1269.4 193.8l15.3 15.3m0 -15.3l-15.3 15.3M1269.4 188.7l15.3 15.3m0 -15.3l-15.3 15.3M1269.4 183.6l15.3 15.3m0 -15.3l-15.3 15.3"/>
<rect fill="#55a055" stroke="none" x="1407.9" y="535.1" width="14.4" height="53.9"/>
<path stroke="#55a055" d="M1407.4 524.6l15.3 15.3m0 -15.3l-15.3 15.3M1407.4 523.1l15.3 15.3m0 -15.3l-15.3 15.3M1407.4 521.7l15.3 15.3m0 -15.3l-15.3 15.3M1407.4 520.3l15.3 15.3m0 -15.3l-15.3 15.3M1407.4 518.8l15.3 15.3m0 -15.3l-15.3 15.3M1407.4 517.4l15.3 15.3m0 -15.3l-15.3 15.3M1407.4 515.9l15.3 15.3m0 -15.3l-15.3 15.3M1407.4 514.5l15.3 15.3m0 -15.3l-15.3 15.3M1407.4 513.1l15.3 15.3m0 -15.3l-15.3 15.3M1407.4 511.6l15.3 15.3m0 -15.3l-15.3 15.3M1407.4 510.2l15.3 15.3m0 -15.3l-15.3 15.3M1407.4 508.8l15.3 15.3m0 -15.3l-15.3 15.3M1407.4 507.3l15.3 15.3m0 -15.3l-15.3 15.3M1407.4 505.9l15.3 15.3m0 -15.3l-15.3 15.3M1407.4 504.5l15.3 15.3m0 -15.3l-15.3 15.3M1407.4 503l15.3 15.3m0 -15.3l-15.3 15.3M1407.4 501.6l15.3 15.3m0 -15.3l-15.3 15.3"/>
<path stroke="#4a9a4a" d="M1407.4 526l15.3 15.3m0 -15.3l-15.3 15.3M1407.4 501.5l15.3 15.3m0 -15.3l-15.3 15.3M1407.4 496.7l15.3 15.3m0 -15.3l-15.3 15.3M1407.4 491.8l15.3 15.3m0 -15.3l-15.3 15.3M1407.4 486.2l15.3 15.3m0 -15.3l-15.3 15.3M1407.4 484l15.3 15.3m0 -15.3l-15.3 15.3M1407.4 481.4l15.3 15.3m0 -15.3l-15.3 15.3M1407.4 479.3l15.3 15.3m0 -15.3l-15.3 15.3M1407.4 476.9l15.3 15.3m0 -15.3l-15.3 15.3M1407.4 471.8l15.3 15.3m0 -15.3l-15.3 15.3M1407.4 469.7l15.3 15.3m0 -15.3l-15.3 15.3M1407.4 465.7l15.3 15.3m0 -15.3l-15.3 15.3M1407.4 463.3l15.3 15.3m0 -15.3l-15.3 15.3M1407.4 460.4l15.3 15.3m0 -15.3l-15.3 15.3M1407.4 456.9l15.3 15.3m0 -15.3l-15.3 15.3M1407.4 451.4l15.3 15.3m0 -15.3l-15.3 15.3M1407.4 446.9l15.3 15.3m0 -15.3l-15.3 15.3M1407.4 445.5l15.3 15.3m0 -15.3l-15.3 15.3M1407.4 442.8l15.3 15.3m0 -15.3l-15.3 15.3M1407.4 440.7l15.3 15.3m0 -15.3l-15.3 15.3M1407.4 434.9l15.3 15.3m0 -15.3l-15.3 15.3M1407.4 431.4l15.3 15.3m0 -15.3l-15.3 15.3M1407.4 427.3l15.3 15.3m0 -15.3l-15.3 15.3M1407.4 423.2l15.3 15.3m0 -15.3l-15.3 15.3M1407.4 419.1l15.3 15.3m0 -15.3l-15.3 15.3M1407.4 415l15.3 15.3m0 -15.3l-15.3 15.3M1407.4 396.8l15.3 15.3m0 -15.3l-15.3 15.3M1407.4 388.7l15.3 15.3m0 -15.3l-15.3 15.3M1407.4 364.2l15.3 15.3m0 -15.3l-15.3 15.3M1407.4 358.1l15.3 15.3m0 -15.3l-15.3 15.3M1407.4 353l15.3 15.3m0 -15.3l-15.3 15.3M1407.4 347.9l15.3 15.3m0 -15.3l-15.3 15.3M1407.4 326.6l15.3 15.3m0 -15.3l-15.3 15.3M1407.4 311.3l15.3 15.3m0 -15.3l-15.3 15.3M1407.4 305.2l15.3 15.3m0 -15.3l-15.3 15.3M1407.4 300.2l15.3 15.3m0 -15.3l-15.3 15.3M1407.4 294.1l15.3 15.3m0 -15.3l-15.3 15.3M1407.4 286l15.3 15.3m0 -15.3l-15.3 15.3M1407.4 284.2l15.3 15.3m0 -15.3l-15.3 15.3M1407.4 264.1l15.3 15.3m0 -15.3l-15.3 15.3M1407.4 258.4l15.3 15.3m0 -15.3l-15.3 15.3M1407.4 252.4l15.3 15.3m0 -15.3l-15.3 15.3M1407.4 245.3l15.3 15.3m0 -15.3l-15.3 15.3M1407.4 220.9l15.3 15.3m0 -15.3l-15.3 15.3M1407.4 207.7l15.3 15.3m0 -15.3l-15.3 15.3M1407.4 171.7l15.3 15.3m0 -15.3l-15.3 15.3M1407.4 157.8l15.3 15.3m0 -15.3l-15.3 15.3M1407.4 80.1l15.3 15.3m0 -15.3l-15.3 15.3M1407.4 28.1l15.3 15.3m0 -15.3l-15.3 15.3"/>
<rect fill="#a175dc" stroke="none" x="1407.2" y="536.2" width="15.8" height="60.6"/>
<path stroke="#a175dc" d="M1407.4 527.8l15.3 15.3m0 -15.3l-15.3 15.3M1407.4 526.7l15.3 15.3m0 -15.3l-15.3 15.3M1407.4 525.6l15.3 15.3m0 -15.3l-15.3 15.3M1407.4 524.6l15.3 15.3m0 -15.3l-15.3 15.3"/>
<path stroke="#9a64e0" d="M1407.4 520.2l15.3 15.3m0 -15.3l-15.3 15.3M1407.4 512.4l15.3 15.3m0 -15.3l-15.3 15.3M1407.4 507.3l15.3 15.3m0 -15.3l-15.3 15.3M1407.4 503.4l15.3 15.3m0 -15.3l-15.3 15.3M1407.4 496.5l15.3 15.3m0 -15.3l-15.3 15.3M1407.4 489.9l15.3 15.3m0 -15.3l-15.3 15.3M1407.4 482.3l15.3 15.3m0 -15.3l-15.3 15.3M1407.4 478.9l15.3 15.3m0 -15.3l-15.3 15.3M1407.4 472.5l15.3 15.3m0 -15.3l-15.3 15.3M1407.4 466.5l15.3 15.3m0 -15.3l-15.3 15.3M1407.4 460.8l15.3 15.3m0 -15.3l-15.3 15.3M1407.4 458.5l15.3 15.3m0 -15.3l-15.3 15.3M1407.4 456.6l15.3 15.3m0 -15.3l-15.3 15.3M1407.4 452.6l15.3 15.3m0 -15.3l-15.3 15.3M1407.4 446.4l15.3 15.3m0 -15.3l-15.3 15.3M1407.4 443.1l15.3 15.3m0 -15.3l-15.3 15.3M1407.4 439.9l15.3 15.3m0 -15.3l-15.3 15.3M1407.4 437.5l15.3 15.3m0 -15.3l-15.3 15.3M1407.4 434.9l15.3 15.3m0 -15.3l-15.3 15.3M1407.4 402.9l15.3 15.3m0 -15.3l-15.3 15.3M1407.4 391.8l15.3 15.3m0 -15.3l-15.3 15.3M1407.4 386.5l15.3 15.3m0 -15.3l-15.3 15.3M1407.4 381.5l15.3 15.3m0 -15.3l-15.3 15.3M1407.4 376.3l15.3 15.3m0 -15.3l-15.3 15.3M1407.4 333.7l15.3 15.3m0 -15.3l-15.3 15.3M1407.4 211.8l15.3 15.3m0 -15.3l-15.3 15.3M1407.4 198.5l15.3 15.3m0 -15.3l-15.3 15.3M1407.4 195.5l15.3 15.3m0 -15.3l-15.3 15.3"/>
<path stroke="#c08a20" d="M1568.4 581.7l15.3 15.3m0 -15.3l-15.3 15.3M1568.4 578.8l15.3 15.3m0 -15.3l-15.3 15.3M1568.4 575.9l15.3 15.3m0 -15.3l-15.3 15.3M1568.4 573.1l15.3 15.3m0 -15.3l-15.3 15.3M1568.4 570.2l15.3 15.3m0 -15.3l-15.3 15.3M1568.4 567.3l15.3 15.3m0 -15.3l-15.3 15.3M1568.4 564.4l15.3 15.3m0 -15.3l-15.3 15.3M1568.4 561.6l15.3 15.3m0 -15.3l-15.3 15.3M1568.4 558.7l15.3 15.3m0 -15.3l-15.3 15.3M1568.4 555.8l15.3 15.3m0 -15.3l-15.3 15.3M1568.4 553l15.3 15.3m0 -15.3l-15.3 15.3M1568.4 550.1l15.3 15.3m0 -15.3l-15.3 15.3M1568.4 547.2l15.3 15.3m0 -15.3l-15.3 15.3M1568.4 544.4l15.3 15.3m0 -15.3l-15.3 15.3M1568.4 541.5l15.3 15.3m0 -15.3l-15.3 15.3M1568.4 538.6l15.3 15.3m0 -15.3l-15.3 15.3M1568.4 535.7l15.3 15.3m0 -15.3l-15.3 15.3M1568.4 532.9l15.3 15.3m0 -15.3l-15.3 15.3M1568.4 530l15.3 15.3m0 -15.3l-15.3 15.3M1568.4 527.1l15.3 15.3m0 -15.3l-15.3 15.3M1568.4 524.3l15.3 15.3m0 -15.3l-15.3 15.3M1568.4 521.4l15.3 15.3m0 -15.3l-15.3 15.3M1568.4 518.5l15.3 15.3m0 -15.3l-15.3 15.3M1568.4 515.7l15.3 15.3m0 -15.3l-15.3 15.3M1568.4 512.8l15.3 15.3m0 -15.3l-15.3 15.3M1568.4 509.9l15.3 15.3m0 -15.3l-15.3 15.3M1568.4 507.1l15.3 15.3m0 -15.3l-15.3 15.3M1568.4 504.2l15.3 15.3m0 -15.3l-15.3 15.3M1568.4 501.3l15.3 15.3m0 -15.3l-15.3 15.3M1568.4 498.4l15.3 15.3m0 -15.3l-15.3 15.3M1568.4 495.6l15.3 15.3m0 -15.3l-15.3 15.3M1568.4 492.7l15.3 15.3m0 -15.3l-15.3 15.3M1568.4 489.8l15.3 15.3m0 -15.3l-15.3 15.3M1568.4 487l15.3 15.3m0 -15.3l-15.3 15.3M1568.4 484.1l15.3 15.3m0 -15.3l-15.3 15.3M1568.4 481.2l15.3 15.3m0 -15.3l-15.3 15.3M1568.4 478.4l15.3 15.3m0 -15.3l-15.3 15.3M1568.4 475.5l15.3 15.3m0 -15.3l-15.3 15.3M1568.4 460.6l15.3 15.3m0 -15.3l-15.3 15.3M1568.4 453.7l15.3 15.3m0 -15.3l-15.3 15.3M1568.4 448.5l15.3 15.3m0 -15.3l-15.3 15.3M1568.4 443.4l15.3 15.3m0 -15.3l-15.3 15.3M1568.4 439.1l15.3 15.3m0 -15.3l-15.3 15.3M1568.4 430.9l15.3 15.3m0 -15.3l-15.3 15.3M1568.4 427.2l15.3 15.3m0 -15.3l-15.3 15.3M1568.4 424.5l15.3 15.3m0 -15.3l-15.3 15.3M1568.4 381.7l15.3 15.3m0 -15.3l-15.3 15.3M1568.4 380.7l15.3 15.3m0 -15.3l-15.3 15.3M1568.4 353.2l15.3 15.3m0 -15.3l-15.3 15.3M1568.4 290.7l15.3 15.3m0 -15.3l-15.3 15.3M1568.4 266.7l15.3 15.3m0 -15.3l-15.3 15.3M1568.4 250.5l15.3 15.3m0 -15.3l-15.3 15.3M1568.4 237.3l15.3 15.3m0 -15.3l-15.3 15.3M1568.4 196.1l15.3 15.3m0 -15.3l-15.3 15.3M1568.4 195.1l15.3 15.3m0 -15.3l-15.3 15.3M1568.4 102.2l15.3 15.3m0 -15.3l-15.3 15.3M1568.4 71.7l15.3 15.3m0 -15.3l-15.3 15.3"/>
<rect fill="#70c8c8" stroke="none" x="1568.2" y="515" width="15.8" height="81.8"/>
<path stroke="#70c8c8" d="M1568.4 507.3l15.3 15.3m0 -15.3l-15.3 15.3M1568.4 506l15.3 15.3m0 -15.3l-15.3 15.3M1568.4 504.8l15.3 15.3m0 -15.3l-15.3 15.3M1568.4 503.5l15.3 15.3m0 -15.3l-15.3 15.3M1568.4 502.2l15.3 15.3m0 -15.3l-15.3 15.3M1568.4 500.9l15.3 15.3m0 -15.3l-15.3 15.3M1568.4 499.6l15.3 15.3m0 -15.3l-15.3 15.3M1568.4 498.3l15.3 15.3m0 -15.3l-15.3 15.3M1568.4 497l15.3 15.3m0 -15.3l-15.3 15.3M1568.4 495.7l15.3 15.3m0 -15.3l-15.3 15.3M1568.4 494.4l15.3 15.3m0 -15.3l-15.3 15.3M1568.4 493.1l15.3 15.3m0 -15.3l-15.3 15.3M1568.4 492.3l15.3 15.3m0 -15.3l-15.3 15.3M1568.4 489.7l15.3 15.3m0 -15.3l-15.3 15.3M1568.4 487.1l15.3 15.3m0 -15.3l-15.3 15.3M1568.4 484.5l15.3 15.3m0 -15.3l-15.3 15.3M1568.4 481.9l15.3 15.3m0 -15.3l-15.3 15.3M1568.4 479.4l15.3 15.3m0 -15.3l-15.3 15.3M1568.4 476.8l15.3 15.3m0 -15.3l-15.3 15.3"/>
<path stroke="#52bec2" d="M1568.4 472.2l15.3 15.3m0 -15.3l-15.3 15.3M1568.4 470.4l15.3 15.3m0 -15.3l-15.3 15.3M1568.4 467.3l15.3 15.3m0 -15.3l-15.3 15.3M1568.4 462.9l15.3 15.3m0 -15.3l-15.3 15.3M1568.4 460.9l15.3 15.3m0 -15.3l-15.3 15.3M1568.4 459.1l15.3 15.3m0 -15.3l-15.3 15.3M1568.4 456.8l15.3 15.3m0 -15.3l-15.3 15.3M1568.4 452l15.3 15.3m0 -15.3l-15.3 15.3M1568.4 450.1l15.3 15.3m0 -15.3l-15.3 15.3M1568.4 445.4l15.3 15.3m0 -15.3l-15.3 15.3M1568.4 441.1l15.3 15.3m0 -15.3l-15.3 15.3M1568.4 439.1l15.3 15.3m0 -15.3l-15.3 15.3M1568.4 435.4l15.3 15.3m0 -15.3l-15.3 15.3M1568.4 432.1l15.3 15.3m0 -15.3l-15.3 15.3M1568.4 428.9l15.3 15.3m0 -15.3l-15.3 15.3M1568.4 423l15.3 15.3m0 -15.3l-15.3 15.3M1568.4 421.3l15.3 15.3m0 -15.3l-15.3 15.3M1568.4 420l15.3 15.3m0 -15.3l-15.3 15.3M1568.4 414.3l15.3 15.3m0 -15.3l-15.3 15.3M1568.4 411.1l15.3 15.3m0 -15.3l-15.3 15.3M1568.4 409l15.3 15.3m0 -15.3l-15.3 15.3M1568.4 406.2l15.3 15.3m0 -15.3l-15.3 15.3M1568.4 402.2l15.3 15.3m0 -15.3l-15.3 15.3M1568.4 376.6l15.3 15.3m0 -15.3l-15.3 15.3M1568.4 374.6l15.3 15.3m0 -15.3l-15.3 15.3M1568.4 368.5l15.3 15.3m0 -15.3l-15.3 15.3M1568.4 366.4l15.3 15.3m0 -15.3l-15.3 15.3M1568.4 360.3l15.3 15.3m0 -15.3l-15.3 15.3M1568.4 337.7l15.3 15.3m0 -15.3l-15.3 15.3M1568.4 336l15.3 15.3m0 -15.3l-15.3 15.3M1568.4 334.4l15.3 15.3m0 -15.3l-15.3 15.3M1568.4 318.7l15.3 15.3m0 -15.3l-15.3 15.3M1568.4 292.8l15.3 15.3m0 -15.3l-15.3 15.3M1568.4 290.2l15.3 15.3m0 -15.3l-15.3 15.3M1568.4 287.1l15.3 15.3m0 -15.3l-15.3 15.3M1568.4 272.8l15.3 15.3m0 -15.3l-15.3 15.3M1568.4 260.6l15.3 15.3m0 -15.3l-15.3 15.3M1568.4 254.5l15.3 15.3m0 -15.3l-15.3 15.3M1568.4 247.4l15.3 15.3m0 -15.3l-15.3 15.3M1568.4 244.4l15.3 15.3m0 -15.3l-15.3 15.3M1568.4 238.3l15.3 15.3m0 -15.3l-15.3 15.3M1568.4 235.2l15.3 15.3m0 -15.3l-15.3 15.3M1568.4 215.9l15.3 15.3m0 -15.3l-15.3 15.3M1568.4 199.6l15.3 15.3m0 -15.3l-15.3 15.3M1568.4 185.4l15.3 15.3m0 -15.3l-15.3 15.3M1568.4 169l15.3 15.3m0 -15.3l-15.3 15.3M1568.4 167.3l15.3 15.3m0 -15.3l-15.3 15.3M1568.4 142.8l15.3 15.3m0 -15.3l-15.3 15.3M1568.4 122.5l15.3 15.3m0 -15.3l-15.3 15.3M1568.4 84.4l15.3 15.3m0 -15.3l-15.3 15.3M1568.4 57l15.3 15.3m0 -15.3l-15.3 15.3M1568.4 22.4l15.3 15.3m0 -15.3l-15.3 15.3M1568.4 15.8l15.3 15.3m0 -15.3l-15.3 15.3"/>
</g>
<g stroke="#000" stroke-width="2.3" stroke-linecap="round" clip-path="url(#crm)">
<line x1="1145.2" y1="446.5" x2="1179" y2="446.5"/>
<line x1="1260.2" y1="45.8" x2="1294" y2="45.8"/>
<line x1="1260.2" y1="434.7" x2="1294" y2="434.7"/>
<line x1="1398.2" y1="207.1" x2="1432" y2="207.1"/>
<line x1="1398.2" y1="418" x2="1432" y2="418"/>
<line x1="1559.2" y1="351.4" x2="1593" y2="351.4"/>
<line x1="1766.2" y1="448.4" x2="1800" y2="448.4"/>
<line x1="1766.2" y1="514.7" x2="1800" y2="514.7"/>
</g>
<g class="tk">
<text text-anchor="end" transform="translate(1119.4 596.9) scale(1 1.04)">0</text>
<text text-anchor="end" transform="translate(1120.16 526.96) scale(1 1.04)">1x10<tspan class="sp" dx="-0.1" dy="-9.8">3</tspan></text>
<text text-anchor="end" transform="translate(1120.16 455.22) scale(1 1.04)">2x10<tspan class="sp" dx="-0.1" dy="-9.8">3</tspan></text>
<text text-anchor="end" transform="translate(1120.16 383.48) scale(1 1.04)">3x10<tspan class="sp" dx="-0.1" dy="-9.8">3</tspan></text>
<text text-anchor="end" transform="translate(1120.16 311.74) scale(1 1.04)">4x10<tspan class="sp" dx="-0.1" dy="-9.8">3</tspan></text>
<text text-anchor="end" transform="translate(1120.16 240) scale(1 1.04)">5x10<tspan class="sp" dx="-0.1" dy="-9.8">3</tspan></text>
<text text-anchor="end" transform="translate(1120.16 168.26) scale(1 1.04)">6x10<tspan class="sp" dx="-0.1" dy="-9.8">3</tspan></text>
<text text-anchor="end" transform="translate(1120.16 96.52) scale(1 1.04)">7x10<tspan class="sp" dx="-0.1" dy="-9.8">3</tspan></text>
<text text-anchor="end" transform="translate(1120.16 24.78) scale(1 1.04)">8x10<tspan class="sp" dx="-0.1" dy="-9.8">3</tspan></text>
<text class="tx" text-anchor="middle" transform="translate(1161.7 629.8) scale(1 1.08)">0</text>
<text class="tx" text-anchor="middle" transform="translate(1276.7 629.8) scale(1 1.08)">5</text>
<text class="tx" text-anchor="middle" transform="translate(1391.7 629.8) scale(1 1.08)">10</text>
<text class="tx" text-anchor="middle" transform="translate(1506.7 629.8) scale(1 1.08)">15</text>
<text class="tx" text-anchor="middle" transform="translate(1621.7 629.8) scale(1 1.08)">20</text>
<text class="tx" text-anchor="middle" transform="translate(1736.7 629.8) scale(1 1.08)">25</text>
</g>
<text class="ti" text-anchor="middle" transform="translate(1495.9 678) scale(1 0.985)">Dose (kGy)</text>
<text class="ti2" text-anchor="middle" transform="translate(1044.6 302.8) rotate(-90)">Fluorescence intensity at 533 nm</text>
<rect x="1145.6" y="14.2" width="103.9" height="217.1" fill="#fff" stroke="#2a2a2a" stroke-width="1.2"/>
<g class="lgr">
<path fill="none" stroke="#2a2a2a" stroke-width="1.2" d="M1160.2 19.3l14.8 14.8m0 -14.8l-14.8 14.8"/>
<text transform="translate(1192 32.5) scale(1 1.04)">0 kGy</text>
<path fill="none" stroke="#d42e32" stroke-width="1.2" d="M1160.2 40.7l14.8 14.8m0 -14.8l-14.8 14.8"/>
<text transform="translate(1192 53.93) scale(1 1.04)">5 kGy</text>
<path fill="none" stroke="#3258dc" stroke-width="1.2" d="M1160.2 62.2l14.8 14.8m0 -14.8l-14.8 14.8"/>
<text transform="translate(1192 75.36) scale(1 1.04)">5 kGy</text>
<path fill="none" stroke="#4a9a4a" stroke-width="1.2" d="M1160.2 83.6l14.8 14.8m0 -14.8l-14.8 14.8"/>
<text transform="translate(1192 96.79) scale(1 1.04)">11 kGy</text>
<path fill="none" stroke="#9a64e0" stroke-width="1.2" d="M1160.2 105l14.8 14.8m0 -14.8l-14.8 14.8"/>
<text transform="translate(1192 118.22) scale(1 1.04)">11 kGy</text>
<path fill="none" stroke="#c08a20" stroke-width="1.2" d="M1160.2 126.4l14.8 14.8m0 -14.8l-14.8 14.8"/>
<text transform="translate(1192 139.65) scale(1 1.04)">18 kGy</text>
<path fill="none" stroke="#52bec2" stroke-width="1.2" d="M1160.2 147.9l14.8 14.8m0 -14.8l-14.8 14.8"/>
<text transform="translate(1192 161.08) scale(1 1.04)">18 kGy</text>
<path fill="none" stroke="#5c3c3c" stroke-width="1.2" d="M1160.2 169.3l14.8 14.8m0 -14.8l-14.8 14.8"/>
<text transform="translate(1192 182.51) scale(1 1.04)">27 kGy</text>
<path fill="none" stroke="#84841a" stroke-width="1.2" d="M1160.2 190.7l14.8 14.8m0 -14.8l-14.8 14.8"/>
<text transform="translate(1192 203.94) scale(1 1.04)">27 kGy</text>
<line x1="1150.8" y1="219.7" x2="1184.8" y2="219.7" stroke="#000" stroke-width="2.2" stroke-linecap="round"/>
<text transform="translate(1192 225.37) scale(1 1.04)">mean</text>
</g>
</svg>
</body>
</html>
